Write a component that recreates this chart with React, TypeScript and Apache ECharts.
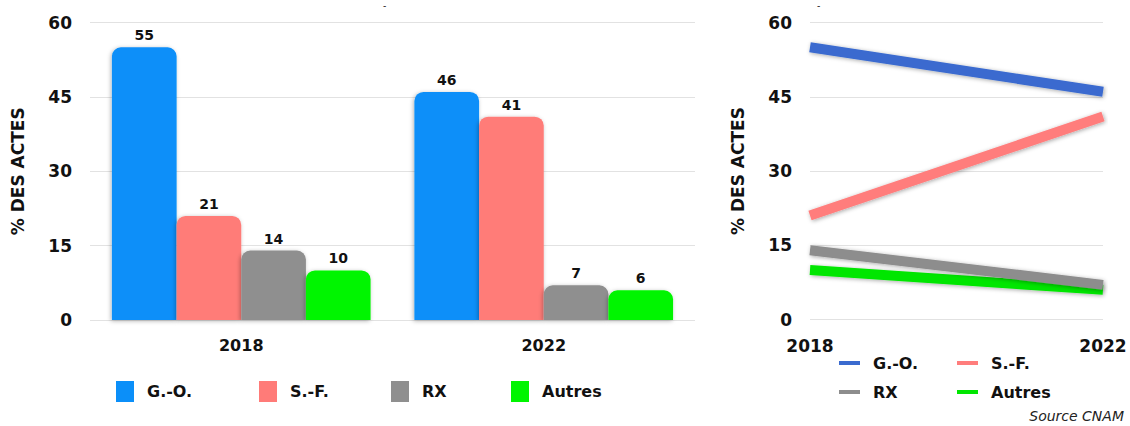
import React, { useEffect, useRef } from "react";
import * as echarts from "echarts";

const years = ["2018", "2022"];
const seriesNames = ["G.-O.", "S.-F.", "RX", "Autres"];
const goValues = [55, 46];
const sfValues = [21, 41];
const rxValues = [14, 7];
const autresValues = [10, 6];
const yTicks = [0, 15, 30, 45, 60];

const barColors = ["#0B8FF9", "#FF7B78", "#8F8F8F", "#00F500"];
const lineColors = ["#3A6BCF", "#FF7D7C", "#8D8D8D", "#00E600"];

const FONT = "'DejaVu Sans', 'Open Sans', sans-serif";

export default function App() {
  const ref = useRef<HTMLDivElement>(null);
  useEffect(() => {
    document.body.style.margin = "0";
    if (!ref.current) return;
    const chart = echarts.init(ref.current, null, { renderer: "svg" });
    const values = [goValues, sfValues, rxValues, autresValues];
    const yAxisCommon = (gridIndex: number) => ({
      type: "value",
      gridIndex,
      min: yTicks[0],
      max: yTicks[yTicks.length - 1],
      interval: 15,
      name: "% DES ACTES",
      nameLocation: "middle",
      nameGap: 64,
      nameTextStyle: { fontFamily: FONT, fontWeight: "bold", fontSize: 17, color: "#111" },
      axisLine: { show: false },
      axisTick: { show: false },
      axisLabel: { margin: 18, fontFamily: FONT, fontWeight: "bold", fontSize: 17, color: "#111" },
      splitLine: { lineStyle: { color: "#E2E2E2", width: 1 } },
    });
    const barSeries = seriesNames.map((name, i) => ({
      type: "bar",
      name,
      xAxisIndex: 0,
      yAxisIndex: 0,
      data: values[i],
      barGap: "0%",
      barCategoryGap: "14.5%",
      itemStyle: {
        color: barColors[i],
        borderRadius: [9, 9, 0, 0],
        shadowBlur: 4,
        shadowColor: "rgba(0,0,0,0.3)",
        shadowOffsetX: -1,
        shadowOffsetY: 1,
      },
      label: {
        show: true,
        position: "top",
        distance: 5,
        fontFamily: FONT,
        fontWeight: "bold",
        fontSize: 14,
        color: "#111",
      },
    }));
    const lineSeries = seriesNames.map((name, i) => ({
      type: "line",
      name: name + " ",
      xAxisIndex: 1,
      yAxisIndex: 1,
      data: values[i],
      symbol: "none",
      lineStyle: {
        color: lineColors[i],
        width: 10,
        cap: "butt",
        shadowBlur: 4,
        shadowColor: "rgba(0,0,0,0.35)",
        shadowOffsetX: 1,
        shadowOffsetY: 1,
      },
      itemStyle: { color: lineColors[i] },
      z: 10 - i,
    }));
    const legendText = {
      fontFamily: FONT,
      fontWeight: "bold",
      fontSize: 16,
      color: "#111",
      padding: [0, 0, 0, 8],
    };
    const barLegendLeft = [111, 254, 386, 506];
    const lineLegendPos = [
      [834, 350],
      [952, 350],
      [834, 379],
      [952, 379],
    ];
    const legends = [
      ...seriesNames.map((n, i) => ({
        data: [n],
        left: barLegendLeft[i],
        top: 376,
        icon: "rect",
        itemWidth: 18,
        itemHeight: 21,
        textStyle: legendText,
      })),
      ...seriesNames.map((n, i) => ({
        data: [n + " "],
        left: lineLegendPos[i][0],
        top: lineLegendPos[i][1],
        icon: "rect",
        itemWidth: 21,
        itemHeight: 4,
        formatter: (s: string) => s.trim(),
        textStyle: legendText,
      })),
    ];
    chart.setOption({
      animation: false,
      grid: [
        { left: 90, right: 435, top: 22.5, bottom: 106 },
        { left: 810, right: 27, top: 22.5, bottom: 106.5 },
      ],
      xAxis: [
        {
          type: "category",
          gridIndex: 0,
          data: years,
          axisLine: { show: false },
          axisTick: { show: false },
          axisLabel: { margin: 17, fontFamily: FONT, fontWeight: "bold", fontSize: 16, color: "#111" },
        },
        {
          type: "category",
          gridIndex: 1,
          data: years,
          boundaryGap: false,
          axisLine: { show: false },
          axisTick: { show: false },
          axisLabel: { margin: 18, fontFamily: FONT, fontWeight: "bold", fontSize: 17, color: "#111" },
        },
      ],
      yAxis: [yAxisCommon(0), yAxisCommon(1)],
      legend: legends,
      graphic: [
        {
          type: "text",
          right: 6,
          top: 409,
          style: {
            text: "Source CNAM",
            fontFamily: FONT,
            fontStyle: "italic",
            fontSize: 14,
            fill: "#222",
          },
        },
        { type: "text", left: 383, top: 0, style: { text: "-", fontSize: 10, fill: "#333" } },
        { type: "text", left: 817, top: 0, style: { text: "-", fontSize: 10, fill: "#333" } },
      ],
      series: [...barSeries, ...lineSeries],
    });
    return () => chart.dispose();
  }, []);
  return <div ref={ref} style={{ width: 1130, height: 426 }} />;
}
